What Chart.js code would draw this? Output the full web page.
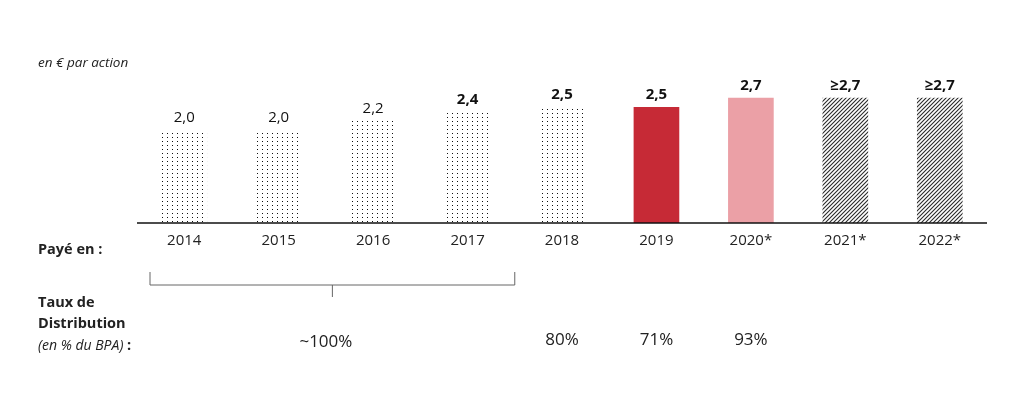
<!DOCTYPE html>
<html lang="fr">
<head>
    <meta charset="UTF-8">
    <title>Dividende par action</title>
    <script src="https://cdn.jsdelivr.net/npm/chart.js"></script>
    <style>
        html, body { margin: 0; padding: 0; background: #fff; }
        #wrap { width: 1015px; height: 416px; }
    </style>
</head>
<body>
    <div id="wrap"><canvas id="dividend-chart"></canvas></div>

    <script>
    // Data
    const years = ['2014', '2015', '2016', '2017', '2018', '2019', '2020*', '2021*', '2022*'];
    const dividends = [2.0, 2.0, 2.2, 2.4, 2.5, 2.5, 2.7, 2.7, 2.7];
    const valueLabels = ['2,0', '2,0', '2,2', '2,4', '2,5', '2,5', '2,7', '\u22652,7', '\u22652,7'];
    const boldLabel = [false, false, false, true, true, true, true, true, true];
    const barStyle = ['dots', 'dots', 'dots', 'dots', 'dots', 'red', 'pink', 'hatch', 'hatch'];
    const payoutGroupLabel = '~100%';          // covers 2014 - 2017
    const payoutGroupRange = [0, 3];
    const payoutLabels = [null, null, null, null, '80%', '71%', '93%', null, null];

    const FONT = '"Open Sans", "Noto Sans", sans-serif';

    function dotPattern() {
        const c = document.createElement('canvas');
        c.width = 5; c.height = 4;
        const g = c.getContext('2d');
        g.fillStyle = '#fff';
        g.fillRect(0, 0, 5, 4);
        g.fillStyle = '#111';
        g.fillRect(2, 1, 1, 1);
        return g.createPattern(c, 'repeat');
    }

    function hatchPattern() {
        const c = document.createElement('canvas');
        c.width = 4; c.height = 4;
        const g = c.getContext('2d');
        g.fillStyle = '#fff';
        g.fillRect(0, 0, 4, 4);
        g.strokeStyle = '#2a2a2a';
        g.lineWidth = 1.1;
        g.beginPath();
        g.moveTo(-1, 5); g.lineTo(5, -1);
        g.moveTo(-1, 1); g.lineTo(1, -1);
        g.moveTo(3, 5); g.lineTo(5, 3);
        g.stroke();
        return g.createPattern(c, 'repeat');
    }

    const fills = {
        dots: dotPattern(),
        hatch: hatchPattern(),
        red: '#c62a36',
        pink: '#eba0a6'
    };

    // Draws the axis line, labels and the payout rows below the chart
    const annotations = {
        id: 'annotations',
        afterDatasetsDraw(chart) {
            const ctx = chart.ctx;
            const x = chart.scales.x;
            const y = chart.scales.y;
            const area = chart.chartArea;
            const base = y.getPixelForValue(0);
            const meta = chart.getDatasetMeta(0);

            ctx.save();

            // baseline
            ctx.strokeStyle = '#111';
            ctx.lineWidth = 1.5;
            ctx.beginPath();
            ctx.moveTo(area.left, base);
            ctx.lineTo(area.right, base);
            ctx.stroke();

            // value labels over bars
            ctx.textAlign = 'center';
            ctx.textBaseline = 'bottom';
            ctx.fillStyle = '#111';
            meta.data.forEach((bar, i) => {
                ctx.font = (boldLabel[i] ? 'bold ' : '') + '15px ' + FONT;
                ctx.fillText(valueLabels[i], bar.x, bar.y - 5);
            });

            // year labels
            ctx.font = '15px ' + FONT;
            ctx.textBaseline = 'middle';
            ctx.fillStyle = '#222';
            years.forEach((yr, i) => {
                ctx.fillText(yr, x.getPixelForValue(i), base + 18);
            });

            // left-hand captions
            ctx.textAlign = 'left';
            ctx.fillStyle = '#222';
            ctx.font = 'italic 13.5px ' + FONT;
            ctx.fillText('en \u20ac par action', 38, 63);
            ctx.font = 'bold 14.5px ' + FONT;
            ctx.fillText('Payé en :', 38, 250);
            ctx.fillText('Taux de', 38, 303);
            ctx.fillText('Distribution', 38, 324);
            ctx.font = 'italic 14px ' + FONT;
            const it = '(en % du BPA) ';
            ctx.fillText(it, 38, 346);
            const w = ctx.measureText(it).width;
            ctx.font = 'bold 14.5px ' + FONT;
            ctx.fillText(':', 38 + w, 346);

            // bracket over 2014-2017
            const half = (x.getPixelForValue(1) - x.getPixelForValue(0)) / 2;
            const bl = x.getPixelForValue(payoutGroupRange[0]) - half + 13;
            const br = x.getPixelForValue(payoutGroupRange[1]) + half;
            const bm = (bl + br) / 2;
            ctx.strokeStyle = '#666';
            ctx.lineWidth = 1;
            ctx.beginPath();
            ctx.moveTo(bl, 272);
            ctx.lineTo(bl, 285);
            ctx.lineTo(br, 285);
            ctx.lineTo(br, 272);
            ctx.moveTo(bm, 285);
            ctx.lineTo(bm, 297);
            ctx.stroke();

            // payout rates
            ctx.textAlign = 'center';
            ctx.fillStyle = '#222';
            ctx.font = '17px ' + FONT;
            const gm = (x.getPixelForValue(payoutGroupRange[0]) + x.getPixelForValue(payoutGroupRange[1])) / 2;
            ctx.fillText(payoutGroupLabel, gm, 342);
            payoutLabels.forEach((p, i) => {
                if (p) ctx.fillText(p, x.getPixelForValue(i), 340);
            });

            ctx.restore();
        }
    };

    new Chart(document.getElementById('dividend-chart'), {
        type: 'bar',
        data: {
            labels: years,
            datasets: [{
                label: 'Dividende',
                data: dividends,
                backgroundColor: barStyle.map(s => fills[s]),
                borderWidth: 0,
                barThickness: 45
            }]
        },
        options: {
            responsive: true,
            maintainAspectRatio: false,
            animation: false,
            layout: { padding: { left: 137, right: 28, top: 38, bottom: 193 } },
            scales: {
                x: { display: false },
                y: { display: false, min: 0, max: 4 }
            },
            plugins: {
                legend: { display: false },
                tooltip: { enabled: false }
            }
        },
        plugins: [annotations]
    });
    </script>
</body>
</html>
